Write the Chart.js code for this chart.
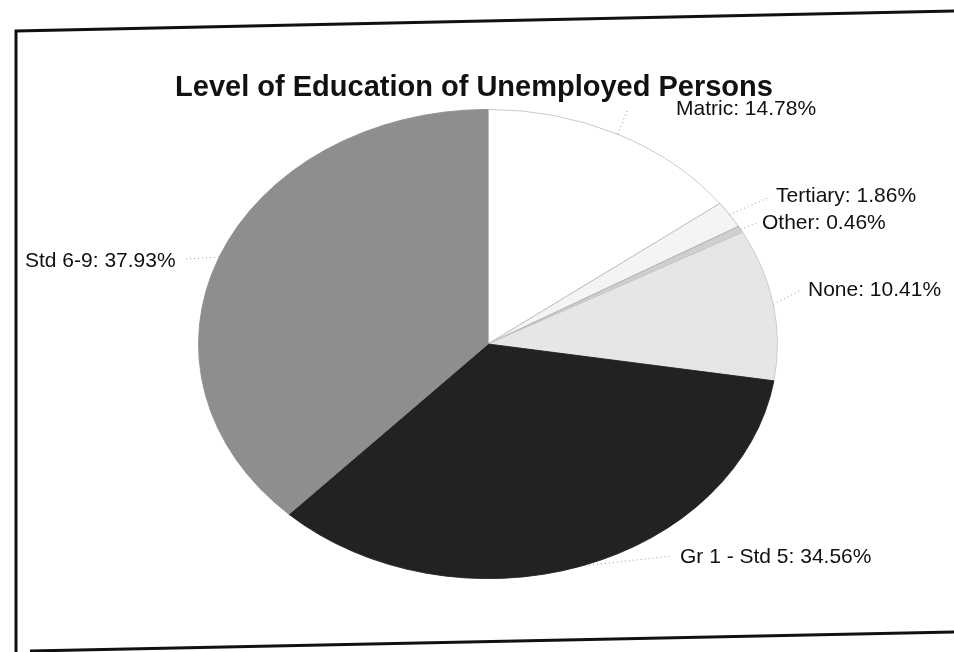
<!DOCTYPE html>
<html><head><meta charset="utf-8">
<script src="https://cdn.jsdelivr.net/npm/chart.js@4/dist/chart.umd.min.js"></script>
<style>html,body{margin:0;padding:0;background:#fff}#wrap{width:954px;height:652px;position:relative}</style>
</head><body><div id="wrap"><canvas id="c" width="954" height="652"></canvas></div>
<script>
// ---- data ----
const chartTitle = 'Level of Education of Unemployed Persons';
const categories = ['Matric', 'Tertiary', 'Other', 'None', 'Gr 1 - Std 5', 'Std 6-9'];
const shares = [14.78, 1.86, 0.46, 10.41, 34.56, 37.93];
const sliceColors = ['#ffffff', '#f4f4f4', '#cfcfcf', '#e6e6e6', '#222222', '#8e8e8e'];
const sliceBorders = ['#c4c4c4', '#bdbdbd', '#b0b0b0', '#c8c8c8', '#222222', '#8e8e8e'];

// ---- layout (not data) ----
const ELLIPSE_Y = 235 / 290;           // vertical squash of the pie
const labelLayout = [                  // text left x, baseline y, leader end x, leader end y
  {x: 676, y: 115, lx: 628, ly: 109},
  {x: 776, y: 202, lx: 770, ly: 197},
  {x: 762, y: 229, lx: 757, ly: 223},
  {x: 808, y: 296, lx: 801, ly: 290},
  {x: 680, y: 563, lx: 672, ly: 556},
  {x: 25,  y: 267, lx: 185, ly: 259}
];

const ellipsePlugin = {
  id: 'ellipse',
  beforeDatasetsDraw(chart) {
    const arc = chart.getDatasetMeta(0).data[0];
    const ctx = chart.ctx;
    ctx.save();
    ctx.translate(arc.x, arc.y);
    ctx.scale(1, ELLIPSE_Y);
    ctx.translate(-arc.x, -arc.y);
  },
  afterDatasetsDraw(chart) {
    chart.ctx.restore();
  }
};

const decoPlugin = {
  id: 'deco',
  beforeDraw(chart) {
    const ctx = chart.ctx;
    ctx.save();
    ctx.fillStyle = '#fff';
    ctx.fillRect(0, 0, chart.width, chart.height);
    ctx.restore();
  },
  afterDraw(chart) {
    const ctx = chart.ctx;
    const meta = chart.getDatasetMeta(0);
    ctx.save();
    // frame
    ctx.strokeStyle = '#111';
    ctx.lineWidth = 3;
    ctx.beginPath();
    ctx.moveTo(954, 11); ctx.lineTo(16, 31); ctx.lineTo(16, 652);
    ctx.stroke();
    ctx.beginPath();
    ctx.moveTo(30, 651); ctx.lineTo(954, 632);
    ctx.stroke();
    // title
    ctx.fillStyle = '#111';
    ctx.font = 'bold 29px "Liberation Sans", Arial, sans-serif';
    ctx.textAlign = 'center';
    ctx.textBaseline = 'alphabetic';
    ctx.fillText(chartTitle, 474, 96);
    // labels + leaders
    ctx.font = '21px "Liberation Sans", Arial, sans-serif';
    ctx.textAlign = 'left';
    meta.data.forEach((arc, i) => {
      const mid = (arc.startAngle + arc.endAngle) / 2;
      const ex = arc.x + arc.outerRadius * Math.cos(mid);
      const ey = arc.y + arc.outerRadius * Math.sin(mid) * ELLIPSE_Y;
      const L = labelLayout[i];
      ctx.strokeStyle = '#9a9a9a';
      ctx.lineWidth = 1;
      ctx.setLineDash([1, 3]);
      ctx.beginPath();
      ctx.moveTo(ex, ey); ctx.lineTo(L.lx, L.ly);
      ctx.stroke();
      ctx.setLineDash([]);
      ctx.fillStyle = '#111';
      ctx.fillText(categories[i] + ': ' + shares[i].toFixed(2) + '%', L.x, L.y);
    });
    ctx.restore();
  }
};

new Chart(document.getElementById('c'), {
  type: 'pie',
  data: {
    labels: categories,
    datasets: [{
      data: shares,
      backgroundColor: sliceColors,
      borderColor: sliceBorders,
      borderWidth: 1,
      hoverOffset: 0,
      offset: 0
    }]
  },
  options: {
    responsive: false,
    devicePixelRatio: 1,
    animation: false,
    layout: {padding: {left: 198, right: 176, top: 54, bottom: 18}},
    plugins: {legend: {display: false}, tooltip: {enabled: false}, title: {display: false}}
  },
  plugins: [ellipsePlugin, decoPlugin]
});
</script></body></html>
